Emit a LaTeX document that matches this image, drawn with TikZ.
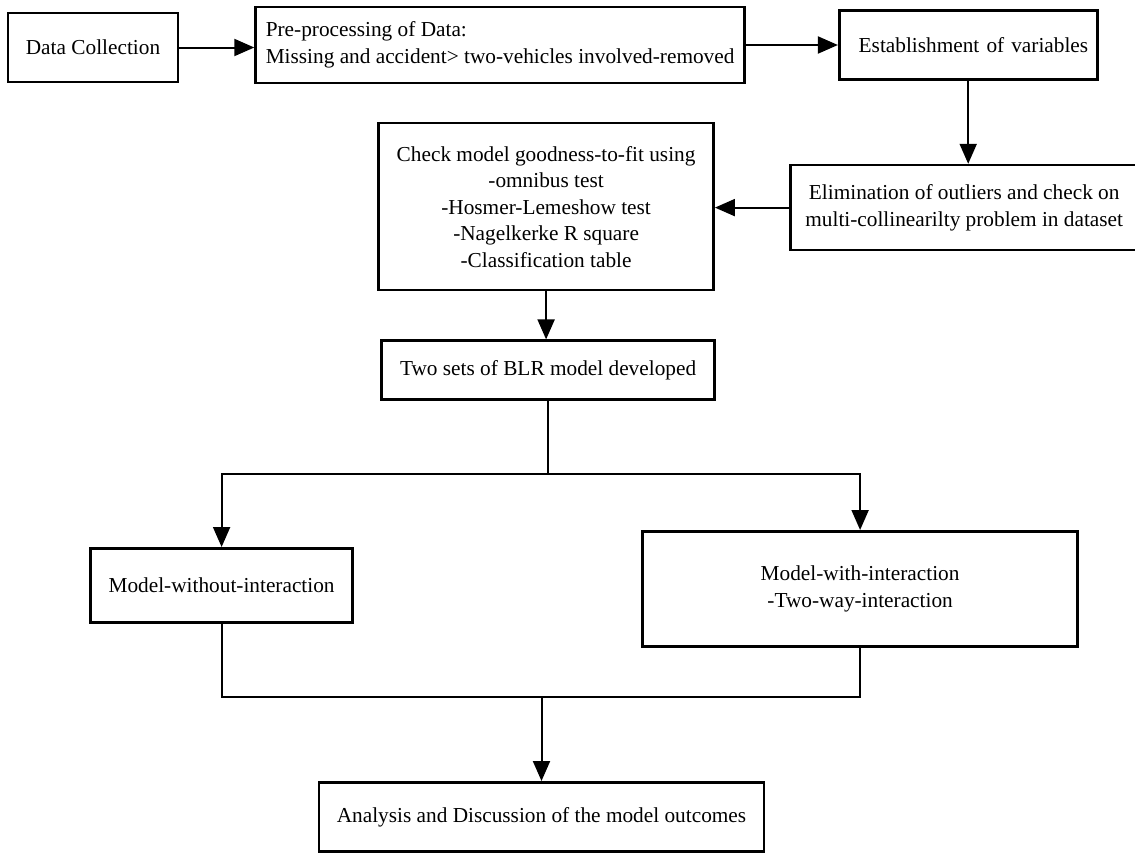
\documentclass[tikz,border=0pt]{standalone}
\usepackage{fontspec}
\setmainfont{Liberation Serif}
\usepackage{tikz}
\usetikzlibrary{positioning, arrows.meta}

\begin{document}
\begin{tikzpicture}[>={Triangle[length=20pt,width=17pt]},line width=2pt,
                    x=1pt,y=-1pt]
\tikzstyle{box}=[draw=black,line width=2.6pt,inner sep=6pt,align=center]
\tikzset{font=\fontsize{21.3pt}{26.5pt}\selectfont}

\useasboundingbox (0,0) rectangle (1135,852);

        \node[box, minimum width=170pt, minimum height=69pt]                          (dc)                                            at (93,47.5) {Data Collection};
        \node[box, minimum width=489pt, minimum height=76pt, align=left]              (pre)   [right=75pt of dc, yshift=2.5pt]         {Pre-processing of Data:\\Missing and accident> two-vehicles involved-removed};
        \node[box, minimum height=69pt, align=right, text width=240pt, inner xsep=9pt] (est)   [right=92pt of pre]                      {Establishment of variables};
        \node[box, minimum width=348pt, minimum height=85pt]                          (elim)  [below=83pt of est, xshift=-4pt]         {Elimination of outliers and check on\\multi-collinearilty problem in dataset};
        \node[box, minimum width=335pt, minimum height=167pt]                         (chk)   [left=74pt of elim, yshift=1pt]          {Check model goodness-to-fit using\\-omnibus test\\-Hosmer-Lemeshow test\\-Nagelkerke R square\\-Classification table};
        \node[box, minimum width=333pt, minimum height=59pt]                          (two)   [below=48pt of chk, xshift=2pt]          {Two sets of BLR model developed};

        \coordinate[below=73pt of two] (split);

        \node[box, minimum width=262pt, minimum height=74pt]                          (mwo)   [below=73pt of split, xshift=-326.5pt]   {Model-without-interaction};
        \node[box, minimum width=435pt, minimum height=115pt]                         (mw)    [below=56pt of split, xshift=312pt]      {Model-with-interaction\\-Two-way-interaction};

        \coordinate (merge) at (541.5,697);

        \node[box, minimum width=445pt, minimum height=69pt]                          (ana)   [below=84pt of merge]                    {Analysis and Discussion of the model outcomes};

        % top row and the turn back
        \draw[->] (dc.east)    -- (dc.east -| pre.west);
        \draw[->] (pre.east |- est.west) -- (est.west);
        \draw[->] (est.south)  -- (est.south |- elim.north);
        \draw[->] (elim.west)  -- (elim.west -| chk.east);
        \draw[->] (chk.south)  -- (chk.south |- two.north);

        % split into the two models
        \draw     (two.south)  -- (split);
        \draw[->] (split)      -| (mwo.north);
        \draw[->] (split)      -| (mw.north);

        % join again
        \draw     (mwo.south)  |- (merge) -| (mw.south);
        \draw[->] (merge)      -- (ana.north);

\end{tikzpicture}
\end{document}
